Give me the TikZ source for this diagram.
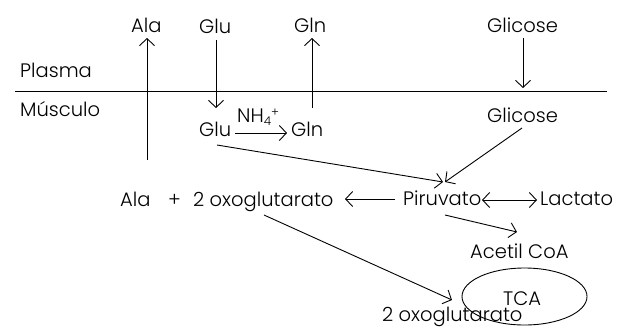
\documentclass[tikz,border=0pt]{standalone}
\usepackage{fontspec}
\setmainfont{Poppins}[UprightFont=* Light]
\usetikzlibrary{arrows.meta,shapes.geometric}
\begin{document}
\begin{tikzpicture}[x=1pt,y=-1pt,
  lbl/.style={anchor=base west,inner sep=0pt,font=\fontsize{19.5}{22}\selectfont},
  flow/.style={line width=0.9pt,-{Straight Barb[length=7pt,width=15pt,line width=0.9pt]}},
  both/.style={line width=0.9pt,{Straight Barb[length=7pt,width=15pt,line width=0.9pt]}-{Straight Barb[length=7pt,width=15pt,line width=0.9pt]}},
  plain/.style={line width=0.9pt}]
\useasboundingbox (0,0) rectangle (623,327);

% compartment labels and membrane
\node[lbl] (plasma) at (20,77) {Plasma};
\node[lbl] (musc) at (20,116) {Músculo};
\coordinate (memL) at (15,91);
\coordinate (memR) at (607,91);
\draw[plain] (memL) -- (memR);

% plasma metabolites
\node[lbl] (alaTop) at (131,32) {Ala};
\node[lbl] (gluTop) at (199,33) {Glu};
\node[lbl] (glnTop) at (294,32) {Gln};
\node[lbl] (gliTop) at (487,32) {Glicose};

% muscle metabolites
\node[lbl] (gluIn) at (199,136) {Glu};
\node[lbl] (glnIn) at (291,136) {Gln};
\node[lbl] (nh) at (237,122) {NH\raisebox{-0.35ex}{\fontsize{12}{12}\selectfont 4}\raisebox{0.55ex}{\fontsize{12}{12}\selectfont +}};
\node[lbl] (gliIn) at (487,122) {Glicose};
\node[lbl] (alaBot) at (120,206) {Ala};
\node[lbl] (plus) at (168,206) {+};
\node[lbl] (oxo) at (193,206) {2 oxoglutarato};
\node[lbl] (piru) at (403,205) {Piruvato};
\node[lbl] (lact) at (540,205) {Lactato};
\node[lbl] (acetil) at (470,258) {Acetil CoA};
\node[draw,line width=0.9pt,ellipse,minimum width=125pt,minimum height=57pt,inner sep=0pt] (tca) at (524.5,296.5) {};
\node[lbl] (tcaTxt) at (503,305) {TCA};
\node[lbl] (oxo2) at (382,321) {2 oxoglutarato};

% arrow end points
\coordinate (alaS) at (147,160);
\coordinate (alaE) at (147,38);
\coordinate (gluS) at (216,40);
\coordinate (gluE) at (216,108);
\coordinate (glnS) at (312,108);
\coordinate (glnE) at (312,38);
\coordinate (gliS) at (523,38);
\coordinate (gliE) at (523,88);
\coordinate (amS) at (235,133);
\coordinate (amE) at (287,133);
\coordinate (g2pS) at (217,145);
\coordinate (g2pE) at (443,182);
\coordinate (c2pS) at (522,128);
\coordinate (c2pE) at (445,182);
\coordinate (p2oS) at (395,199);
\coordinate (p2oE) at (345,199);
\coordinate (plA) at (482,200);
\coordinate (plB) at (537,200);
\coordinate (paS) at (445,215);
\coordinate (paE) at (517,232);
\coordinate (ooS) at (264,215);
\coordinate (ooE) at (452,300);

% transport and conversions
\draw[flow] (alaS) -- (alaE);
\draw[flow] (gluS) -- (gluE);
\draw[flow] (glnS) -- (glnE);
\draw[flow] (gliS) -- (gliE);
\draw[flow] (amS) -- (amE);
\draw[flow] (g2pS) -- (g2pE);
\draw[flow] (c2pS) -- (c2pE);
\draw[flow] (p2oS) -- (p2oE);
\draw[both] (plA) -- (plB);
\draw[flow] (paS) -- (paE);
\draw[flow] (ooS) -- (ooE);
\end{tikzpicture}
\end{document}
